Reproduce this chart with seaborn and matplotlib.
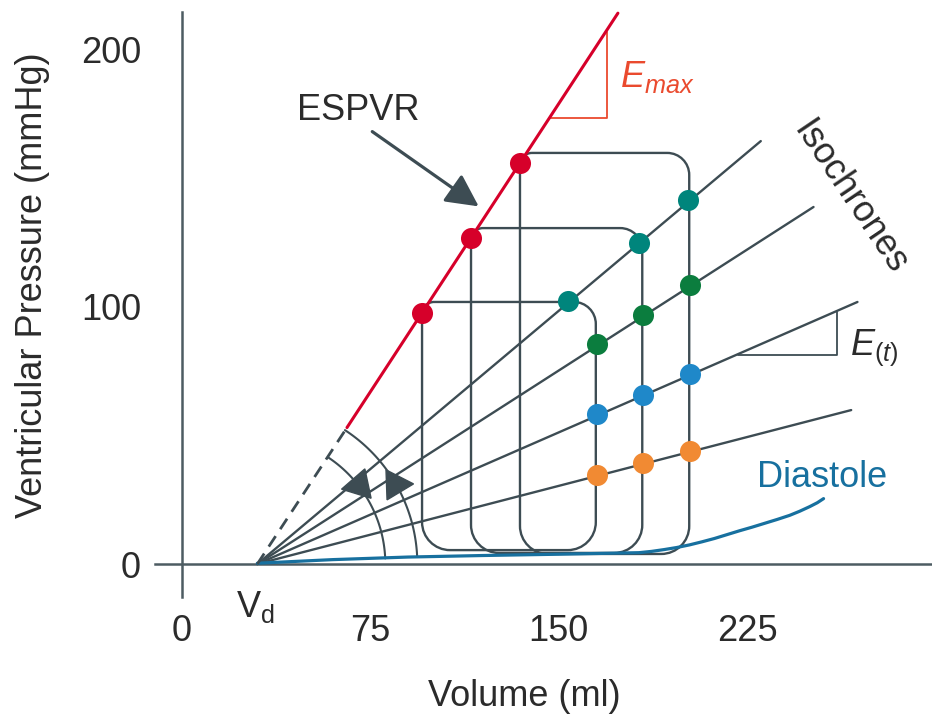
import numpy as np
import pandas as pd
import matplotlib
matplotlib.use("Agg")
import matplotlib.pyplot as plt
import seaborn as sns
from matplotlib.path import Path
from matplotlib.patches import PathPatch, Polygon, FancyArrowPatch

# ---- values -------------------------------------------------------------
V_D = 30.0                      # dead volume (ml)

# ESPVR (end-systolic pressure-volume relation)
espvr_vol = [30.0, 65.7, 173.6]
espvr_pres = [0.0, 53.0, 214.0]

# end-systolic points of three beats
es_vol = [95.6, 115.1, 134.6]
es_pres = [97.5, 126.7, 155.8]

# pressure-volume loops
loop_left = [95.6, 115.1, 134.6]
loop_right = [164.8, 183.3, 202.0]
loop_top = [101.8, 130.5, 159.7]
loop_bottom = [5.4, 4.3, 3.9]

# isochrones: end points of the straight lines from V_D
iso_names = ["t1", "t2", "t3", "t4"]
iso_end_vol = [230.5, 251.5, 269.0, 266.5]
iso_end_pres = [164.3, 138.7, 101.8, 59.8]
iso_colors = ["#00857c", "#0b7d3e", "#1f88c9", "#f18a33"]

# isochrone / loop crossings
iso_dot_vol = [
    [153.7, 182.0, 201.5],
    [165.3, 183.6, 202.3],
    [165.3, 183.6, 202.3],
    [165.3, 183.6, 202.3],
]
iso_dot_pres = [
    [102.2, 124.7, 141.4],
    [85.5, 96.7, 108.4],
    [58.3, 65.7, 73.8],
    [34.6, 39.2, 43.9],
]

# diastolic filling curve
dia_vol = [30, 45, 60, 90, 120, 150, 182, 187, 192, 197, 202, 207, 212, 217,
           222, 227, 232, 237, 242, 246, 250, 253, 255.5]
dia_pres = [0.3, 1.0, 1.7, 2.7, 3.3, 3.8, 4.4, 4.9, 5.6, 6.4, 7.4, 8.6, 9.9,
            11.4, 12.9, 14.3, 15.8, 17.3, 18.9, 20.5, 22.3, 23.8, 25.4]

x_ticks = [0, 75, 150, 225]
y_ticks = [0, 100, 200]
y_minor = [50, 150]

# ---- layout -------------------------------------------------------------
W, H = 932, 718
SX, SY = 2.511, 2.574          # px per ml, px per mmHg
OX, OY = 182, 564              # pixel position of the origin

INK = "#3d4c53"
AXIS = "#4d5c62"
TEXT = "#2b2b2b"
RED = "#d6002a"
RED_LIGHT = "#ea4a2e"
BLUE_DIA = "#17709f"

sns.set_theme(style="white")
plt.rcParams["font.family"] = ["Liberation Sans", "DejaVu Sans"]
plt.rcParams["mathtext.fontset"] = "custom"
plt.rcParams["mathtext.rm"] = "Liberation Sans"
plt.rcParams["mathtext.it"] = "Liberation Sans:italic"

FS = 26

fig = plt.figure(figsize=(W / 100, H / 100), dpi=100)
ax = fig.add_axes([0, 0, 1, 1])
ax.set_xlim(-OX / SX, (W - OX) / SX)
ax.set_ylim((OY - H) / SY, OY / SY)
ax.patch.set_alpha(0)

# crossed axes through the origin
for side in ("top", "right"):
    ax.spines[side].set_visible(False)
ax.spines["left"].set_position(("data", 0))
ax.spines["bottom"].set_position(("data", 0))
ax.spines["left"].set_bounds((OY - 597) / SY, (OY - 12) / SY)
ax.spines["bottom"].set_bounds((155 - OX) / SX, (W - OX) / SX)
for side in ("left", "bottom"):
    ax.spines[side].set_color(AXIS)
    ax.spines[side].set_linewidth(1.8)
    ax.spines[side].set_zorder(1)

ax.set_xticks(x_ticks)
ax.set_xticklabels([str(v) for v in x_ticks])
ax.set_yticks(y_ticks)
ax.set_yticklabels([str(v) for v in y_ticks])
ax.set_yticks(y_minor, minor=True)
ax.tick_params(axis="x", direction="out", length=25, width=1.6, color=AXIS,
               pad=11, labelsize=FS, labelcolor=TEXT)
ax.tick_params(axis="y", which="both", direction="out", length=21.6, width=1.6,
               color=AXIS, pad=8, labelsize=FS, labelcolor=TEXT)
ax.tick_params(axis="y", which="minor", labelleft=False)

ax.set_xlabel("Volume (ml)", fontsize=FS, color=TEXT)
ax.xaxis.set_label_coords(524 / W, 1 - 679 / H)
ax.set_ylabel("Ventricular Pressure (mmHg)", fontsize=FS, color=TEXT)
ax.yaxis.set_label_coords(50 / W, 1 - 285 / H)


def px_to_data(px, py):
    return (px - OX) / SX, (OY - py) / SY


# ---- isochrones ---------------------------------------------------------
iso_df = pd.DataFrame({
    "volume": np.ravel([[V_D, e] for e in iso_end_vol]),
    "pressure": np.ravel([[0.0, p] for p in iso_end_pres]),
    "isochrone": np.repeat(iso_names, 2),
})
sns.lineplot(data=iso_df, x="volume", y="pressure", units="isochrone",
             estimator=None, color=INK, lw=1.7, ax=ax, zorder=3)

# ---- pressure-volume loops ---------------------------------------------
def loop_path(x0, x1, y0, y1, r_tl=12, r_tr=22, r_br=28, r_bl=28):
    k = 0.5523
    rx = lambda r: r / SX
    ry = lambda r: r / SY
    v = [(x0 + rx(r_tl), y1), (x1 - rx(r_tr), y1),
         (x1 - rx(r_tr) + k * rx(r_tr), y1), (x1, y1 - ry(r_tr) + k * ry(r_tr)), (x1, y1 - ry(r_tr)),
         (x1, y0 + ry(r_br)),
         (x1, y0 + ry(r_br) - k * ry(r_br)), (x1 - rx(r_br) + k * rx(r_br), y0), (x1 - rx(r_br), y0),
         (x0 + rx(r_bl), y0),
         (x0 + rx(r_bl) - k * rx(r_bl), y0), (x0, y0 + ry(r_bl) - k * ry(r_bl)), (x0, y0 + ry(r_bl)),
         (x0, y1 - ry(r_tl)),
         (x0, y1 - ry(r_tl) + k * ry(r_tl)), (x0 + rx(r_tl) - k * rx(r_tl), y1), (x0 + rx(r_tl), y1)]
    c = [Path.MOVETO, Path.LINETO,
         Path.CURVE4, Path.CURVE4, Path.CURVE4,
         Path.LINETO,
         Path.CURVE4, Path.CURVE4, Path.CURVE4,
         Path.LINETO,
         Path.CURVE4, Path.CURVE4, Path.CURVE4,
         Path.LINETO,
         Path.CURVE4, Path.CURVE4, Path.CURVE4]
    return Path(v, c)


for x0, x1, y0, y1 in zip(loop_left, loop_right, loop_bottom, loop_top):
    ax.add_patch(PathPatch(loop_path(x0, x1, y0, y1), fill=False,
                           edgecolor=INK, lw=1.7, zorder=3))

# ---- diastolic filling curve -------------------------------------------
sns.lineplot(x=dia_vol, y=dia_pres, color=BLUE_DIA, lw=2.3, ax=ax,
             estimator=None, sort=False, zorder=4)

# ---- ESPVR --------------------------------------------------------------
ax.plot(espvr_vol[:2], espvr_pres[:2], color=INK, lw=2.0,
        dashes=(4.5, 3.0), zorder=4)
sns.lineplot(x=espvr_vol[1:], y=espvr_pres[1:], color=RED, lw=2.2, ax=ax,
             estimator=None, zorder=4)

# ---- angle arcs with arrowheads ----------------------------------------
def arc_pts(r, t0, t1, n=80):
    t = np.radians(np.linspace(t0, t1, n))
    return V_D + r * np.cos(t) / SX, r * np.sin(t) / SY


for r, t0 in ((128, 56.5), (160, 56.8)):
    xa, ya = arc_pts(r, t0, 2.5)
    ax.plot(xa, ya, color=INK, lw=1.5, zorder=3)


def head(r, theta, heading, length=27, half=15):
    cx = r * np.cos(np.radians(theta))
    cy = r * np.sin(np.radians(theta))
    ux, uy = np.cos(np.radians(heading)), np.sin(np.radians(heading))
    tip = (cx + 0.6 * length * ux, cy + 0.6 * length * uy)
    bx, by = cx - 0.4 * length * ux, cy - 0.4 * length * uy
    b1 = (bx - half * uy, by + half * ux)
    b2 = (bx + half * uy, by - half * ux)
    return [(V_D + px / SX, py / SY) for px, py in (tip, b1, b2)]


for r, th, hd in ((127, 38, 192), (161, 29.6, 2)):
    ax.add_patch(Polygon(head(r, th, hd), closed=True, color=INK, zorder=5))

# ---- dots ---------------------------------------------------------------
sns.scatterplot(x=es_vol, y=es_pres, color=RED, s=230, linewidth=0,
                ax=ax, zorder=6)
for vols, pres, col in zip(iso_dot_vol, iso_dot_pres, iso_colors):
    sns.scatterplot(x=vols, y=pres, color=col, s=230, linewidth=0,
                    ax=ax, zorder=6)

# ---- slope triangles ----------------------------------------------------
emax_tri_x = [146.6, 169.3, 169.3]
emax_tri_y = [173.3, 173.3, 206.7]
ax.plot(emax_tri_x, emax_tri_y, color=RED_LIGHT, lw=1.3, zorder=3)
et_tri_x = [221.4, 260.8, 260.8]
et_tri_y = [81.2, 81.2, 97.9]
ax.plot(et_tri_x, et_tri_y, color=INK, lw=1.3, zorder=3)

# ---- annotations --------------------------------------------------------
ax.text(*px_to_data(297, 120), "ESPVR", fontsize=FS, color=TEXT,
        ha="left", va="baseline")
ax.add_patch(FancyArrowPatch(px_to_data(370, 130), px_to_data(481, 208),
                             arrowstyle="-|>,head_length=0.55,head_width=0.28",
                             mutation_scale=36, color=INK, lw=2.3, zorder=5))
ax.text(*px_to_data(850, 198), "Isochrones", fontsize=FS, color=TEXT,
        rotation=-56, ha="center", va="center")
ax.text(*px_to_data(620, 87), r"$E_{max}$", fontsize=FS, color=RED_LIGHT,
        ha="left", va="baseline")
ax.text(*px_to_data(850, 355), r"$E_{(t)}$", fontsize=FS, color=TEXT,
        ha="left", va="baseline")
ax.text(*px_to_data(757, 487), "Diastole", fontsize=FS, color=BLUE_DIA,
        ha="left", va="baseline")
ax.text(*px_to_data(236, 617), r"$\mathrm{V}_\mathrm{d}$", fontsize=FS,
        color=TEXT, ha="left", va="baseline")

fig.savefig("out.png", dpi=100)
